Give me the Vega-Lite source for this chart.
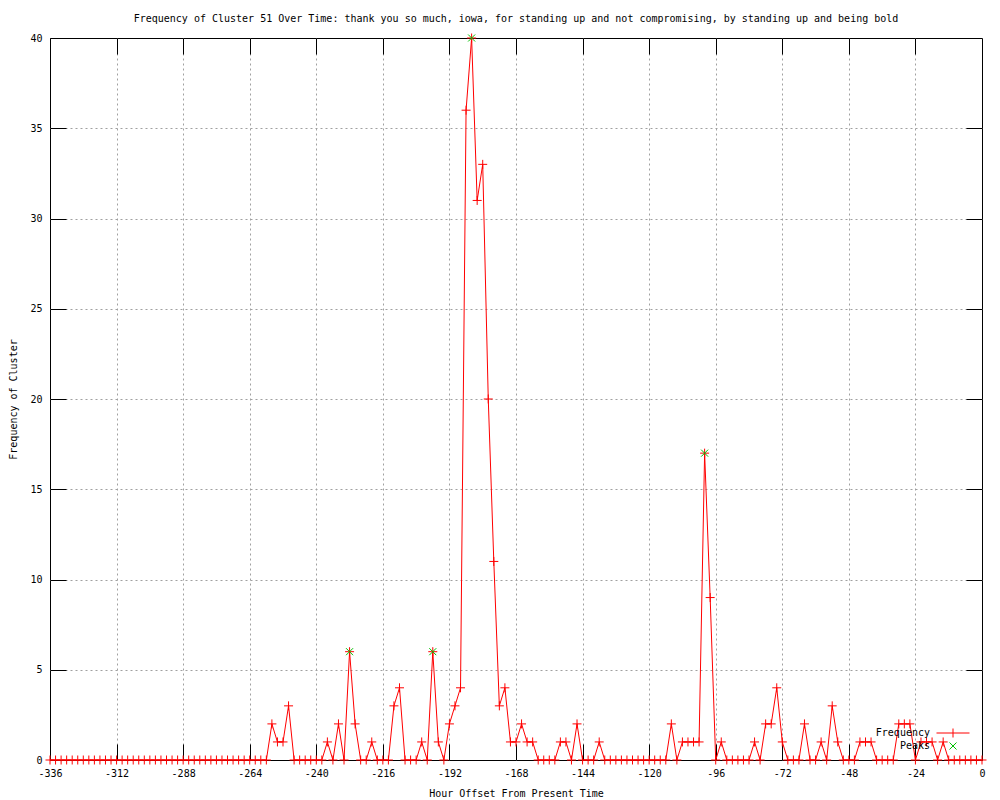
{
  "$schema": "https://vega.github.io/schema/vega-lite/v6.json",
  "width": 932,
  "height": 722,
  "autosize": {"type": "none"},
  "padding": {"left": 50, "top": 38, "right": 18, "bottom": 40},
  "background": "white",
  "config": {
    "view": {"stroke": "black", "strokeWidth": 1},
    "font": "DejaVu Sans Mono",
    "axis": {
      "labelFont": "DejaVu Sans Mono",
      "labelFontSize": 10,
      "labelColor": "black",
      "titleFont": "DejaVu Sans Mono",
      "titleFontSize": 10,
      "titleFontWeight": "normal",
      "titleColor": "black",
      "tickColor": "black",
      "domainColor": "black",
      "gridColor": "#a0a0a0",
      "gridDash": [2, 3],
      "gridWidth": 1
    },
    "legend": {
      "labelFont": "DejaVu Sans Mono",
      "labelFontSize": 10,
      "labelColor": "black"
    }
  },
  "title": {
    "text": "Frequency of Cluster 51 Over Time: thank you so much, iowa, for standing up and not compromising, by standing up and being bold",
    "font": "DejaVu Sans Mono",
    "fontSize": 10,
    "fontWeight": "normal",
    "color": "black",
    "frame": "group",
    "anchor": "middle",
    "offset": 8
  },
  "datasets": {
    "freq": [
      {"h": -336, "f": 0}, {"h": -334, "f": 0}, {"h": -332, "f": 0}, {"h": -330, "f": 0}, {"h": -328, "f": 0}, {"h": -326, "f": 0}, {"h": -324, "f": 0}, {"h": -322, "f": 0}, {"h": -320, "f": 0}, {"h": -318, "f": 0}, {"h": -316, "f": 0}, {"h": -314, "f": 0},
      {"h": -312, "f": 0}, {"h": -310, "f": 0}, {"h": -308, "f": 0}, {"h": -306, "f": 0}, {"h": -304, "f": 0}, {"h": -302, "f": 0}, {"h": -300, "f": 0}, {"h": -298, "f": 0}, {"h": -296, "f": 0}, {"h": -294, "f": 0}, {"h": -292, "f": 0}, {"h": -290, "f": 0},
      {"h": -288, "f": 0}, {"h": -286, "f": 0}, {"h": -284, "f": 0}, {"h": -282, "f": 0}, {"h": -280, "f": 0}, {"h": -278, "f": 0}, {"h": -276, "f": 0}, {"h": -274, "f": 0}, {"h": -272, "f": 0}, {"h": -270, "f": 0}, {"h": -268, "f": 0}, {"h": -266, "f": 0},
      {"h": -264, "f": 0}, {"h": -262, "f": 0}, {"h": -260, "f": 0}, {"h": -258, "f": 0}, {"h": -256, "f": 2}, {"h": -254, "f": 1}, {"h": -252, "f": 1}, {"h": -250, "f": 3}, {"h": -248, "f": 0}, {"h": -246, "f": 0}, {"h": -244, "f": 0}, {"h": -242, "f": 0},
      {"h": -240, "f": 0}, {"h": -238, "f": 0}, {"h": -236, "f": 1}, {"h": -234, "f": 0}, {"h": -232, "f": 2}, {"h": -230, "f": 0}, {"h": -228, "f": 6}, {"h": -226, "f": 2}, {"h": -224, "f": 0}, {"h": -222, "f": 0}, {"h": -220, "f": 1}, {"h": -218, "f": 0},
      {"h": -216, "f": 0}, {"h": -214, "f": 0}, {"h": -212, "f": 3}, {"h": -210, "f": 4}, {"h": -208, "f": 0}, {"h": -206, "f": 0}, {"h": -204, "f": 0}, {"h": -202, "f": 1}, {"h": -200, "f": 0}, {"h": -198, "f": 6}, {"h": -196, "f": 1}, {"h": -194, "f": 0},
      {"h": -192, "f": 2}, {"h": -190, "f": 3}, {"h": -188, "f": 4}, {"h": -186, "f": 36}, {"h": -184, "f": 40}, {"h": -182, "f": 31}, {"h": -180, "f": 33}, {"h": -178, "f": 20}, {"h": -176, "f": 11}, {"h": -174, "f": 3}, {"h": -172, "f": 4}, {"h": -170, "f": 1},
      {"h": -168, "f": 1}, {"h": -166, "f": 2}, {"h": -164, "f": 1}, {"h": -162, "f": 1}, {"h": -160, "f": 0}, {"h": -158, "f": 0}, {"h": -156, "f": 0}, {"h": -154, "f": 0}, {"h": -152, "f": 1}, {"h": -150, "f": 1}, {"h": -148, "f": 0}, {"h": -146, "f": 2},
      {"h": -144, "f": 0}, {"h": -142, "f": 0}, {"h": -140, "f": 0}, {"h": -138, "f": 1}, {"h": -136, "f": 0}, {"h": -134, "f": 0}, {"h": -132, "f": 0}, {"h": -130, "f": 0}, {"h": -128, "f": 0}, {"h": -126, "f": 0}, {"h": -124, "f": 0}, {"h": -122, "f": 0},
      {"h": -120, "f": 0}, {"h": -118, "f": 0}, {"h": -116, "f": 0}, {"h": -114, "f": 0}, {"h": -112, "f": 2}, {"h": -110, "f": 0}, {"h": -108, "f": 1}, {"h": -106, "f": 1}, {"h": -104, "f": 1}, {"h": -102, "f": 1}, {"h": -100, "f": 17}, {"h": -98, "f": 9},
      {"h": -96, "f": 0}, {"h": -94, "f": 1}, {"h": -92, "f": 0}, {"h": -90, "f": 0}, {"h": -88, "f": 0}, {"h": -86, "f": 0}, {"h": -84, "f": 0}, {"h": -82, "f": 1}, {"h": -80, "f": 0}, {"h": -78, "f": 2}, {"h": -76, "f": 2}, {"h": -74, "f": 4},
      {"h": -72, "f": 1}, {"h": -70, "f": 0}, {"h": -68, "f": 0}, {"h": -66, "f": 0}, {"h": -64, "f": 2}, {"h": -62, "f": 0}, {"h": -60, "f": 0}, {"h": -58, "f": 1}, {"h": -56, "f": 0}, {"h": -54, "f": 3}, {"h": -52, "f": 1}, {"h": -50, "f": 0},
      {"h": -48, "f": 0}, {"h": -46, "f": 0}, {"h": -44, "f": 1}, {"h": -42, "f": 1}, {"h": -40, "f": 1}, {"h": -38, "f": 0}, {"h": -36, "f": 0}, {"h": -34, "f": 0}, {"h": -32, "f": 0}, {"h": -30, "f": 2}, {"h": -28, "f": 2}, {"h": -26, "f": 2},
      {"h": -24, "f": 0}, {"h": -22, "f": 1}, {"h": -20, "f": 1}, {"h": -18, "f": 1}, {"h": -16, "f": 0}, {"h": -14, "f": 1}, {"h": -12, "f": 0}, {"h": -10, "f": 0}, {"h": -8, "f": 0}, {"h": -6, "f": 0}, {"h": -4, "f": 0}, {"h": -2, "f": 0},
      {"h": 0, "f": 0}
    ],
    "peaks": [
      {"h": -228, "f": 6}, {"h": -198, "f": 6}, {"h": -184, "f": 40}, {"h": -100, "f": 17}
    ]
  },
  "layer": [
    {
      "data": {"name": "freq"},
      "mark": {"type": "line", "color": "#ff0000", "strokeWidth": 1, "clip": false},
      "encoding": {
        "x": {
          "field": "h", "type": "quantitative",
          "scale": {"domain": [-336, 0], "nice": false, "zero": false},
          "axis": {
            "orient": "bottom",
            "values": [-336, -312, -288, -264, -240, -216, -192, -168, -144, -120, -96, -72, -48, -24, 0],
            "grid": false,
            "domain": false,
            "tickSize": -16,
            "labelPadding": 24,
            "labelFlush": false,
            "labelExpr": "replace(datum.label, '\u2212', '-')",
            "title": "Hour Offset From Present Time",
            "titleY": 33,
            "titleBaseline": "middle"
          }
        },
        "y": {
          "field": "f", "type": "quantitative",
          "scale": {"domain": [0, 40], "nice": false, "zero": false},
          "axis": {
            "orient": "left",
            "values": [0, 5, 10, 15, 20, 25, 30, 35, 40],
            "grid": false,
            "domain": false,
            "tickSize": -16,
            "labelPadding": 24,
            "labelFlush": false,
            "title": "Frequency of Cluster",
            "titleX": -37,
            "titleBaseline": "middle"
          }
        }
      }
    },
    {
      "data": {"name": "freq"},
      "mark": {"type": "point", "shape": "M-1,0L1,0M0,-1L0,1", "filled": false, "strokeWidth": 1, "size": 81, "opacity": 1},
      "encoding": {
        "x": {
          "field": "h", "type": "quantitative",
          "axis": {
            "orient": "top",
            "values": [-312, -288, -264, -240, -216, -192, -168, -144, -120, -96, -72, -48, -24],
            "grid": true,
            "domain": false,
            "labels": false,
            "tickSize": -16,
            "title": null
          }
        },
        "y": {
          "field": "f", "type": "quantitative",
          "axis": {
            "orient": "right",
            "values": [5, 10, 15, 20, 25, 30, 35],
            "grid": true,
            "domain": false,
            "labels": false,
            "tickSize": -16,
            "title": null
          }
        },
        "color": {
          "datum": "Frequency", "type": "nominal",
          "scale": {"domain": ["Frequency", "Peaks"], "range": ["#ff0000", "#00c000"]}
        }
      }
    },
    {
      "data": {"name": "peaks"},
      "mark": {"type": "point", "shape": "M-1,-1L1,1M-1,1L1,-1", "filled": false, "strokeWidth": 1, "size": 49, "opacity": 1},
      "encoding": {
        "x": {"field": "h", "type": "quantitative", "axis": null},
        "y": {"field": "f", "type": "quantitative", "axis": null},
        "color": {"datum": "Peaks", "type": "nominal"}
      }
    },
    {
      "data": {"name": "peaks"},
      "transform": [{"filter": "false"}],
      "mark": {"type": "point", "filled": false, "strokeWidth": 1, "opacity": 1},
      "encoding": {
        "x": {"field": "h", "type": "quantitative", "axis": null},
        "y": {"field": "f", "type": "quantitative", "axis": null},
        "color": {
          "datum": "Frequency", "type": "nominal",
          "legend": {
            "title": null,
            "orient": "none",
            "legendX": 898,
            "legendY": 690,
            "padding": 0,
            "rowPadding": 0,
            "symbolSize": 81,
            "symbolStrokeWidth": 1,
            "labelAlign": "right",
            "labelOffset": -28
          }
        },
        "shape": {
          "datum": "Frequency", "type": "nominal",
          "scale": {"domain": ["Frequency", "Peaks"], "range": ["M-3.67,0L3.67,0M0,-1L0,1", "M-0.78,-0.78L0.78,0.78M-0.78,0.78L0.78,-0.78"]},
          "legend": {
            "title": null,
            "orient": "none",
            "legendX": 898,
            "legendY": 690,
            "padding": 0,
            "rowPadding": 0,
            "symbolSize": 81,
            "symbolStrokeWidth": 1,
            "labelAlign": "right",
            "labelOffset": -28
          }
        }
      }
    }
  ]
}
